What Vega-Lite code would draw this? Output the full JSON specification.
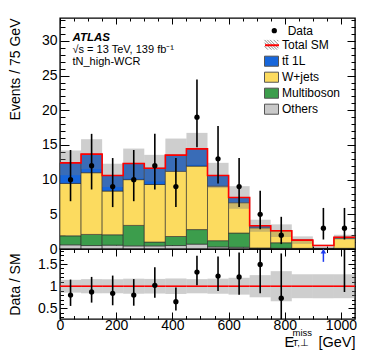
{
"$schema":"https://vega.github.io/schema/vega-lite/v6.json",
"padding":{"left":7,"top":16,"right":5,"bottom":5},
"spacing":0,
"bounds":"flush",
"config":{
 "font":"Liberation Sans",
 "view":{"stroke":"#000","strokeWidth":1.4},
 "axis":{"domain":false,"grid":false,"labelFont":"Liberation Sans","labelFontSize":14,"labelColor":"#000","labelFlush":false,"labelOverlap":false,"titleFont":"Liberation Sans","titleFontSize":14,"titleColor":"#000","titleFontWeight":"normal","tickColor":"#000","tickWidth":1},
 "legend":{"labelFont":"Liberation Sans","labelFontSize":12,"labelColor":"#000","orient":"none","title":null,"padding":0,"rowPadding":1,"labelLimit":200}
},
"datasets":{
 "bins":[
  {"lo":0,"hi":75,"c":37.5,"t":12.42,"ulo":10.64,"uhi":14.2,"rlo":0.855,"rhi":1.145,"n":10,"elo":6.89,"ehi":14.27,"r":0.8,"rel":0.555,"reh":1.15},
  {"lo":75,"hi":150,"c":112.5,"t":13.67,"ulo":11.51,"uhi":15.83,"rlo":0.84,"rhi":1.16,"n":12,"elo":8.58,"ehi":16.6,"r":0.87,"rel":0.63,"reh":1.21},
  {"lo":150,"hi":225,"c":187.5,"t":10.6,"ulo":8.92,"uhi":12.28,"rlo":0.84,"rhi":1.16,"n":9,"elo":6.04,"ehi":13.11,"r":0.84,"rel":0.57,"reh":1.24},
  {"lo":225,"hi":300,"c":262.5,"t":12.33,"ulo":10.18,"uhi":14.48,"rlo":0.83,"rhi":1.17,"n":10,"elo":6.89,"ehi":14.27,"r":0.8,"rel":0.56,"reh":1.16},
  {"lo":300,"hi":375,"c":337.5,"t":11.65,"ulo":9.73,"uhi":13.57,"rlo":0.835,"rhi":1.165,"n":12,"elo":8.58,"ehi":16.6,"r":1.02,"rel":0.74,"reh":1.43},
  {"lo":375,"hi":450,"c":412.5,"t":13.53,"ulo":11.14,"uhi":15.92,"rlo":0.825,"rhi":1.175,"n":9,"elo":6.04,"ehi":13.11,"r":0.65,"rel":0.45,"reh":0.97},
  {"lo":450,"hi":525,"c":487.5,"t":14.44,"ulo":12.14,"uhi":16.74,"rlo":0.84,"rhi":1.16,"n":19,"elo":14.68,"ehi":24.44,"r":1.32,"rel":1.02,"reh":1.69},
  {"lo":525,"hi":600,"c":562.5,"t":10.6,"ulo":8.78,"uhi":12.42,"rlo":0.83,"rhi":1.17,"n":13,"elo":9.43,"ehi":17.73,"r":1.23,"rel":0.89,"reh":1.67},
  {"lo":600,"hi":675,"c":637.5,"t":7.43,"ulo":5.8,"uhi":9.06,"rlo":0.81,"rhi":1.19,"n":9,"elo":6.04,"ehi":13.11,"r":1.21,"rel":0.81,"reh":1.76},
  {"lo":675,"hi":750,"c":712.5,"t":3.35,"ulo":2.48,"uhi":4.22,"rlo":0.75,"rhi":1.25,"n":5,"elo":2.84,"ehi":8.38,"r":1.49,"rel":0.84,"reh":2.5},
  {"lo":750,"hi":825,"c":787.5,"t":2.64,"ulo":1.73,"uhi":3.55,"rlo":0.66,"rhi":1.34,"n":2,"elo":0.71,"ehi":4.64,"r":0.73,"rel":0.2,"reh":1.74},
  {"lo":825,"hi":900,"c":862.5,"t":1.28,"ulo":0.74,"uhi":1.82,"rlo":0.73,"rhi":1.27,"n":null,"elo":null,"ehi":null,"r":null,"rel":null,"reh":null},
  {"lo":900,"hi":975,"c":937.5,"t":0.5,"ulo":0.35,"uhi":0.65,"rlo":0.73,"rhi":1.27,"n":3,"elo":1.37,"ehi":5.92,"r":null,"rel":null,"reh":null,"alo":1.55,"ahi":1.79},
  {"lo":975,"hi":1050,"c":1012.5,"t":1.7,"ulo":1.35,"uhi":2.05,"rlo":0.73,"rhi":1.27,"n":3,"elo":1.37,"ehi":5.92,"r":1.95,"rel":0.87,"reh":3.9}
 ],
 "steps":[
  {"x":0,"t":12.42},{"x":75,"t":13.67},{"x":150,"t":10.6},{"x":225,"t":12.33},{"x":300,"t":11.65},{"x":375,"t":13.53},{"x":450,"t":14.44},{"x":525,"t":10.6},{"x":600,"t":7.43},{"x":675,"t":3.35},{"x":750,"t":2.64},{"x":825,"t":1.28},{"x":900,"t":0.5},{"x":975,"t":1.7},{"x":1050,"t":1.7}
 ],
 "procs":[
  {"lo":0,"hi":75,"p":"Others","o":1,"v":0.6},{"lo":0,"hi":75,"p":"Multiboson","o":2,"v":1.3},{"lo":0,"hi":75,"p":"W+jets","o":3,"v":7.55},{"lo":0,"hi":75,"p":"tt̄ 1L","o":4,"v":2.97},
  {"lo":75,"hi":150,"p":"Others","o":1,"v":0.5},{"lo":75,"hi":150,"p":"Multiboson","o":2,"v":1.6},{"lo":75,"hi":150,"p":"W+jets","o":3,"v":8.9},{"lo":75,"hi":150,"p":"tt̄ 1L","o":4,"v":2.67},
  {"lo":150,"hi":225,"p":"Others","o":1,"v":0.55},{"lo":150,"hi":225,"p":"Multiboson","o":2,"v":1.5},{"lo":150,"hi":225,"p":"W+jets","o":3,"v":6.3},{"lo":150,"hi":225,"p":"tt̄ 1L","o":4,"v":2.25},
  {"lo":225,"hi":300,"p":"Others","o":1,"v":0.45},{"lo":225,"hi":300,"p":"Multiboson","o":2,"v":2.95},{"lo":225,"hi":300,"p":"W+jets","o":3,"v":6.6},{"lo":225,"hi":300,"p":"tt̄ 1L","o":4,"v":2.33},
  {"lo":300,"hi":375,"p":"Others","o":1,"v":0.45},{"lo":300,"hi":375,"p":"Multiboson","o":2,"v":0.55},{"lo":300,"hi":375,"p":"W+jets","o":3,"v":8.3},{"lo":300,"hi":375,"p":"tt̄ 1L","o":4,"v":2.35},
  {"lo":375,"hi":450,"p":"Others","o":1,"v":0.5},{"lo":375,"hi":450,"p":"Multiboson","o":2,"v":1.3},{"lo":375,"hi":450,"p":"W+jets","o":3,"v":9.4},{"lo":375,"hi":450,"p":"tt̄ 1L","o":4,"v":2.33},
  {"lo":450,"hi":525,"p":"Others","o":1,"v":0.7},{"lo":450,"hi":525,"p":"Multiboson","o":2,"v":2.1},{"lo":450,"hi":525,"p":"W+jets","o":3,"v":9.15},{"lo":450,"hi":525,"p":"tt̄ 1L","o":4,"v":2.49},
  {"lo":525,"hi":600,"p":"Others","o":1,"v":0.3},{"lo":525,"hi":600,"p":"Multiboson","o":2,"v":0.9},{"lo":525,"hi":600,"p":"W+jets","o":3,"v":7.86},{"lo":525,"hi":600,"p":"tt̄ 1L","o":4,"v":1.54},
  {"lo":600,"hi":675,"p":"Others","o":1,"v":0.25},{"lo":600,"hi":675,"p":"Multiboson","o":2,"v":2.05},{"lo":600,"hi":675,"p":"W+jets","o":3,"v":4.37},{"lo":600,"hi":675,"p":"tt̄ 1L","o":4,"v":0.76},
  {"lo":675,"hi":750,"p":"Others","o":1,"v":0.1},{"lo":675,"hi":750,"p":"Multiboson","o":2,"v":0.05},{"lo":675,"hi":750,"p":"W+jets","o":3,"v":2.9},{"lo":675,"hi":750,"p":"tt̄ 1L","o":4,"v":0.3},
  {"lo":750,"hi":825,"p":"Others","o":1,"v":0.1},{"lo":750,"hi":825,"p":"Multiboson","o":2,"v":0.8},{"lo":750,"hi":825,"p":"W+jets","o":3,"v":1.74},{"lo":750,"hi":825,"p":"tt̄ 1L","o":4,"v":0},
  {"lo":825,"hi":900,"p":"Others","o":1,"v":0.05},{"lo":825,"hi":900,"p":"Multiboson","o":2,"v":0.05},{"lo":825,"hi":900,"p":"W+jets","o":3,"v":1.18},{"lo":825,"hi":900,"p":"tt̄ 1L","o":4,"v":0},
  {"lo":900,"hi":975,"p":"Others","o":1,"v":0.02},{"lo":900,"hi":975,"p":"Multiboson","o":2,"v":0.03},{"lo":900,"hi":975,"p":"W+jets","o":3,"v":0.05},{"lo":900,"hi":975,"p":"tt̄ 1L","o":4,"v":0},
  {"lo":975,"hi":1050,"p":"Others","o":1,"v":0.05},{"lo":975,"hi":1050,"p":"Multiboson","o":2,"v":0.05},{"lo":975,"hi":1050,"p":"W+jets","o":3,"v":1.45},{"lo":975,"hi":1050,"p":"tt̄ 1L","o":4,"v":0.15}
 ]
},
"vconcat":[
 {
  "width":295,"height":231,
  "resolve":{"axis":{"x":"independent","y":"independent"},"scale":{"color":"independent"}},
  "layer":[
   {
    "data":{"name":"procs"},
    "transform":[{"stack":"v","groupby":["lo"],"sort":[{"field":"o","order":"ascending"}],"as":["y0","y1"]}],
    "mark":{"type":"rect","stroke":"#2a2a2a","strokeWidth":0.8,"strokeOpacity":0.75},
    "encoding":{
     "x":{"field":"lo","type":"quantitative","scale":{"domain":[0,1050],"nice":false,"zero":false},"axis":{"orient":"bottom","values":[0,200,400,600,800,1000],"labels":false,"tickSize":-6,"title":"ATLAS","titleX":12,"titleY":-209,"titleAlign":"left","titleAnchor":"start","titleBaseline":"alphabetic","titleFontSize":11.5,"titleFontWeight":"bold","titleFontStyle":"italic"}},
     "x2":{"field":"hi"},
     "y":{"field":"y0","type":"quantitative","scale":{"domain":[0,33.3],"nice":false},"axis":{"orient":"left","values":[0,5,10,15,20,25,30],"ticks":false,"labelPadding":3,"title":"Events / 75 GeV","titleAnchor":"end","titleX":-45,"titleBaseline":"middle"}},
     "y2":{"field":"y1"},
     "color":{"field":"p","type":"nominal","scale":{"domain":["tt̄ 1L","W+jets","Multiboson","Others"],"range":["#1766db","#fcdb5f","#3c9d4c","#c9c9c9"]},
      "legend":{"legendX":204,"legendY":35.7,"symbolSize":196,"labelOffset":3,"symbolType":"M-1,-0.72H1V0.72H-1Z","symbolStrokeColor":"#555","symbolStrokeWidth":1}}
    }
   },
   {
    "data":{"name":"bins"},
    "mark":{"type":"rect","fillOpacity":0.36},
    "encoding":{
     "x":{"field":"lo","type":"quantitative","scale":{"domain":[0,1050],"nice":false,"zero":false},"axis":{"orient":"top","values":[0,200,400,600,800,1000],"labels":false,"tickSize":-6,"title":null}},
     "x2":{"field":"hi"},
     "y":{"field":"ulo","type":"quantitative","scale":{"domain":[0,33.3],"nice":false},"axis":{"orient":"left","values":[0,5,10,15,20,25,30],"labels":false,"title":null,"tickSize":-9}},
     "y2":{"field":"uhi"},
     "color":{"datum":"Total SM","type":"nominal","scale":{"domain":["Total SM"],"range":["#777777"]},
      "legend":{"legendX":204,"legendY":19.3,"symbolSize":196,"labelOffset":3,"symbolType":"M-1,0.2L-0.5,0.7M-1,-0.3L0,0.7M-1,-0.7L0.4,0.7M-0.6,-0.7L0.8,0.7M-0.2,-0.7L1,0.5M0.3,-0.7L1,0M0.8,-0.7L1,-0.5","symbolStrokeColor":"#8a8a8a","symbolStrokeWidth":1,"symbolFillColor":"transparent","symbolOpacity":1}}
    }
   },
   {
    "data":{"name":"steps"},
    "mark":{"type":"line","interpolate":"step-after","strokeWidth":1.6,"color":"#ff0000","stroke":"#ff0000"},
    "encoding":{
     "x":{"field":"x","type":"quantitative","scale":{"domain":[0,1050],"nice":false,"zero":false},"axis":{"orient":"bottom","values":[0,50,100,150,200,250,300,350,400,450,500,550,600,650,700,750,800,850,900,950,1000],"labels":false,"tickSize":-3,"title":["√s = 13 TeV, 139 fb⁻¹","tN_high-WCR"],"titleX":12,"titleY":-197,"titleAlign":"left","titleAnchor":"start","titleBaseline":"alphabetic","titleFontSize":11,"titleLineHeight":12.5}},
     "y":{"field":"t","type":"quantitative","scale":{"domain":[0,33.3],"nice":false},"axis":{"orient":"left","values":[1,2,3,4,6,7,8,9,11,12,13,14,16,17,18,19,21,22,23,24,26,27,28,29,31,32,33],"labels":false,"title":null,"tickSize":-5}},
     "strokeDash":{"datum":"TotalSMline","type":"nominal","scale":{"domain":["TotalSMline"],"range":[[1,0]]},
      "legend":{"legendX":204,"legendY":19.3,"symbolSize":196,"labelOffset":3,"labelExpr":"''","symbolType":"stroke","symbolStrokeColor":"#ff0000","symbolStrokeWidth":2}}
    }
   },
   {
    "data":{"name":"bins"},
    "mark":{"type":"rule","strokeWidth":1.6,"color":"#000"},
    "encoding":{
     "x":{"field":"c","type":"quantitative","scale":{"domain":[0,1050],"nice":false,"zero":false},"axis":{"orient":"top","values":[0,50,100,150,200,250,300,350,400,450,500,550,600,650,700,750,800,850,900,950,1000],"labels":false,"tickSize":-3,"title":null}},
     "y":{"field":"elo","type":"quantitative","scale":{"domain":[0,33.3],"nice":false},"axis":{"orient":"right","values":[0,5,10,15,20,25,30],"labels":false,"title":null,"tickSize":-8}},
     "y2":{"field":"ehi"}
    }
   },
   {
    "data":{"name":"bins"},
    "mark":{"type":"point","filled":true,"size":28,"color":"#000","opacity":1},
    "encoding":{
     "x":{"field":"c","type":"quantitative","scale":{"domain":[0,1050],"nice":false,"zero":false},"axis":null},
     "y":{"field":"n","type":"quantitative","scale":{"domain":[0,33.3],"nice":false},"axis":{"orient":"right","values":[1,2,3,4,6,7,8,9,11,12,13,14,16,17,18,19,21,22,23,24,26,27,28,29,31,32,33],"labels":false,"title":null,"tickSize":-4}},
     "shape":{"datum":"Data","type":"nominal","scale":{"domain":["Data"],"range":["circle"]},
      "legend":{"legendX":208.3,"legendY":6.7,"symbolSize":28,"labelOffset":7.4,"symbolFillColor":"#000","symbolStrokeColor":"#000"}}
    }
   }
  ]
 },
 {
  "width":295,"height":70,
  "resolve":{"axis":{"x":"independent","y":"independent"}},
  "layer":[
   {
    "data":{"name":"bins"},
    "mark":{"type":"rect","fill":"#777777","fillOpacity":0.36,"clip":true},
    "encoding":{
     "x":{"field":"lo","type":"quantitative","scale":{"domain":[0,1050],"nice":false,"zero":false},"axis":{"orient":"bottom","values":[0,200,400,600,800,1000],"ticks":false,"labelPadding":-1,"format":"d","title":"E\u00a0\u00a0\u00a0\u00a0\u00a0\u00a0[GeV]","titleAnchor":"end","titleAlign":"right","titleX":295,"titleY":27,"titleBaseline":"alphabetic","titleFontSize":14.5}},
     "x2":{"field":"hi"},
     "y":{"field":"rlo","type":"quantitative","scale":{"domain":[0.26,1.84],"nice":false,"zero":false},"axis":{"orient":"left","values":[0.5,1,1.5],"format":"~g","ticks":false,"labelPadding":3,"title":"Data / SM","titleX":-45,"titleBaseline":"middle","titleAnchor":"middle"}},
     "y2":{"field":"rhi"}
    }
   },
   {
    "data":{"name":"bins"},
    "mark":{"type":"rule","color":"#ff0000","strokeWidth":1.6},
    "encoding":{
     "x":{"field":"lo","type":"quantitative","scale":{"domain":[0,1050],"nice":false,"zero":false},"axis":{"orient":"bottom","values":[0,200,400,600,800,1000],"labels":false,"title":null,"tickSize":-7}},
     "x2":{"field":"hi"},
     "y":{"datum":1,"type":"quantitative","scale":{"domain":[0.26,1.84],"nice":false,"zero":false},"axis":{"orient":"left","values":[0.5,1,1.5],"labels":false,"title":null,"tickSize":-7}}
    }
   },
   {
    "data":{"name":"bins"},
    "mark":{"type":"rule","strokeWidth":1.6,"color":"#000","clip":true},
    "encoding":{
     "x":{"field":"c","type":"quantitative","scale":{"domain":[0,1050],"nice":false,"zero":false},"axis":{"orient":"bottom","values":[0,50,100,150,200,250,300,350,400,450,500,550,600,650,700,750,800,850,900,950,1000],"labels":false,"title":null,"tickSize":-3.5}},
     "y":{"field":"rel","type":"quantitative","scale":{"domain":[0.26,1.84],"nice":false,"zero":false},"axis":{"orient":"left","values":[0.3,0.4,0.6,0.7,0.8,0.9,1.1,1.2,1.3,1.4,1.6,1.7,1.8],"labels":false,"title":null,"tickSize":-3.5}},
     "y2":{"field":"reh"}
    }
   },
   {
    "data":{"name":"bins"},
    "mark":{"type":"point","filled":true,"shape":"circle","size":28,"color":"#000","opacity":1,"clip":true},
    "encoding":{
     "x":{"field":"c","type":"quantitative","scale":{"domain":[0,1050],"nice":false,"zero":false},"axis":{"orient":"top","values":[0,200,400,600,800,1000],"labels":false,"title":null,"tickSize":-7}},
     "y":{"field":"r","type":"quantitative","scale":{"domain":[0.26,1.84],"nice":false,"zero":false},"axis":{"orient":"right","values":[0.5,1,1.5],"labels":false,"title":null,"tickSize":-7}}
    }
   },
   {
    "data":{"name":"bins"},
    "mark":{"type":"rule","strokeWidth":1.5,"color":"#1f3cf0"},
    "encoding":{
     "x":{"field":"c","type":"quantitative","scale":{"domain":[0,1050],"nice":false,"zero":false},"axis":{"orient":"top","values":[0,50,100,150,200,250,300,350,400,450,500,550,600,650,700,750,800,850,900,950,1000],"labels":false,"title":null,"tickSize":-3.5}},
     "y":{"field":"alo","type":"quantitative","scale":{"domain":[0.26,1.84],"nice":false,"zero":false},"axis":{"orient":"right","values":[0.3,0.4,0.6,0.7,0.8,0.9,1.1,1.2,1.3,1.4,1.6,1.7,1.8],"labels":false,"title":null,"tickSize":-3.5}},
     "y2":{"field":"ahi"}
    }
   },
   {
    "data":{"name":"bins"},
    "mark":{"type":"point","filled":true,"shape":"triangle-up","size":30,"color":"#1f3cf0","opacity":1},
    "encoding":{
     "x":{"field":"c","type":"quantitative","scale":{"domain":[0,1050],"nice":false,"zero":false},"axis":{"orient":"bottom","ticks":false,"labels":false,"title":["miss","T,⊥"],"titleFontSize":9.5,"titleAlign":"left","titleAnchor":"start","titleX":232,"titleY":16,"titleBaseline":"alphabetic","titleLineHeight":10}},
     "y":{"field":"ahi","type":"quantitative","scale":{"domain":[0.26,1.84],"nice":false,"zero":false},"axis":null}
    }
   }
  ]
 }
]
}
